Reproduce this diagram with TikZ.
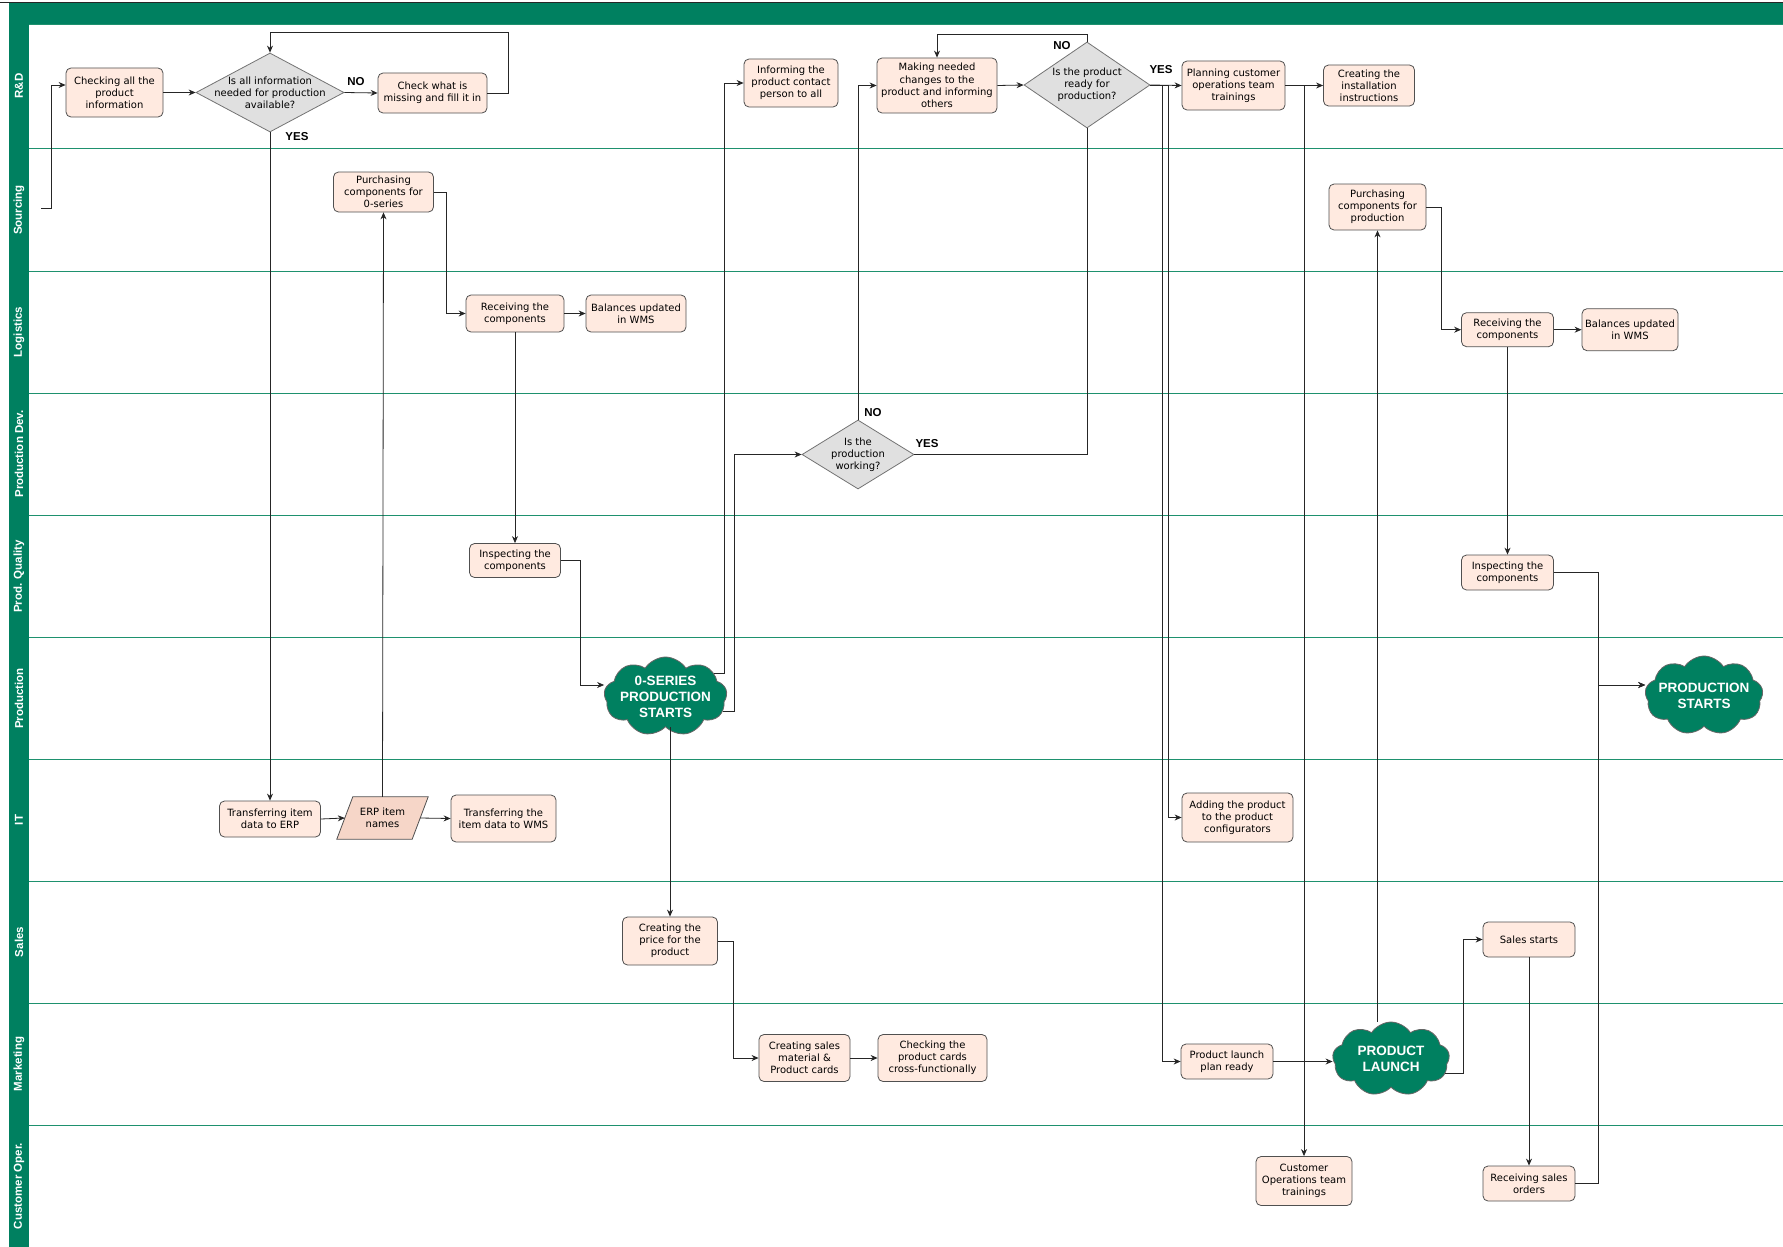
\documentclass[tikz,border=0pt]{standalone}
\usepackage{fontspec}
\setmainfont{DejaVu Sans}
\newfontfamily\hfont{Liberation Sans}
\usetikzlibrary{shapes.geometric,shapes.symbols,arrows.meta}
\definecolor{lanegreen}{RGB}{0,128,96}
\definecolor{laneline}{RGB}{30,145,110}
\definecolor{boxfill}{RGB}{255,234,224}
\definecolor{boxline}{RGB}{80,80,80}
\definecolor{diafill}{RGB}{224,224,224}
\definecolor{parfill}{RGB}{246,214,200}
\tikzset{
  box/.style={draw=boxline, fill=boxfill, rounded corners=5pt, line width=0.8pt, align=center, inner sep=0pt, font=\fontsize{10}{12.2}\selectfont},
  dia/.style={diamond, draw=black!55, fill=diafill, line width=0.8pt, inner sep=0pt},
  dtext/.style={align=center, font=\fontsize{10}{12.2}\selectfont, inner sep=0pt},
  cloudnode/.style={cloud, cloud puffs=9, cloud puff arc=115, cloud ignores aspect, draw=black!60, fill=lanegreen, line width=0.8pt, inner sep=0pt},
  ctext/.style={align=center, text=white, font=\hfont\bfseries\fontsize{13.5}{16}\selectfont, inner sep=0pt},
  lanelbl/.style={rotate=90, text=white, font=\hfont\bfseries\fontsize{11.5}{13}\selectfont, inner sep=0pt},
  yn/.style={font=\hfont\bfseries\fontsize{11.5}{13}\selectfont, inner sep=0pt},
  arr/.style={draw=black!85, line width=0.8pt, -{Stealth[length=7pt,width=6pt]}},
  ln/.style={draw=black!85, line width=0.8pt},
  plain/.style={inner sep=0pt, align=center, font=\fontsize{10}{12.2}\selectfont},
}
\begin{document}
\begin{tikzpicture}[x=1pt,y=-1pt]
\useasboundingbox (0,0) rectangle (1783,1247);
\fill[white] (0,0) rectangle (1783,1247);
% frame
\fill[lanegreen] (9,3) rectangle (1783,24);
\fill[lanegreen] (9,3) rectangle (29,1247);
\draw[black!85, line width=1pt] (0,3) -- (1783,3);
\foreach \yy in {24,148.5,271,393,515.5,637.5,759.5,881,1003,1125.5}
  \draw[laneline, line width=0.9pt] (29,\yy) -- (1783,\yy);
% lane labels
\node[lanelbl] (lRD) at (19,86) {R\&D};
\node[lanelbl] (lSo) at (19,210) {Sourcing};
\node[lanelbl] (lLo) at (19,332) {Logistics};
\node[lanelbl] (lPD) at (19,454) {Production Dev.};
\node[lanelbl] (lPQ) at (19,576.5) {Prod. Quality};
\node[lanelbl] (lPr) at (19,698.5) {Production};
\node[lanelbl] (lIT) at (19,820) {IT};
\node[lanelbl] (lSa) at (19,942) {Sales};
\node[lanelbl] (lMa) at (19,1064) {Marketing};
\node[lanelbl] (lCO) at (19,1186) {Customer Oper.};

% nodes
\node[box, minimum width=97pt, minimum height=49pt] (chk) at (114.5,92.5) {Checking all the\\product\\information};
\node[dia, minimum width=148pt, minimum height=79pt, label={[dtext]center:{Is all information\\needed for production\\available?}}] (d1) at (270,92.5) {};
\node[box, minimum width=109pt, minimum height=40pt] (miss) at (432.5,93) {Check what is\\missing and fill it in};
\node[box, minimum width=100pt, minimum height=40pt] (pur0) at (383.5,192) {Purchasing\\components for\\0-series};
\node[box, minimum width=98pt, minimum height=37pt] (rec1) at (515,313.5) {Receiving the\\components};
\node[box, minimum width=100pt, minimum height=37pt] (bal1) at (636,313.5) {Balances updated\\in WMS};
\node[box, minimum width=91pt, minimum height=34pt] (insp1) at (515,560.5) {Inspecting the\\components};
\node[cloudnode, minimum width=123pt, minimum height=79pt, label={[ctext]center:{0-SERIES\\PRODUCTION\\STARTS}}] (c0) at (665.5,696.5) {};
\node[box, minimum width=94pt, minimum height=48pt] (inf) at (791,83) {Informing the\\product contact\\person to all};
\node[box, minimum width=120pt, minimum height=55pt] (mak) at (937,85.5) {Making needed\\changes to the\\product and informing\\others};
\node[dia, minimum width=126pt, minimum height=86pt, label={[dtext]center:{Is the product\\ready for\\production?}}] (d2) at (1087,85) {};
\node[dia, minimum width=112pt, minimum height=69pt, label={[dtext]center:{Is the\\production\\working?}}] (d3) at (858,454.5) {};
\node[box, minimum width=103pt, minimum height=49pt] (plan) at (1233.5,85.5) {Planning customer\\operations team\\trainings};
\node[box, minimum width=91pt, minimum height=41pt] (inst) at (1369,85.5) {Creating the\\installation\\instructions};
\node[box, minimum width=97pt, minimum height=46pt] (purp) at (1377.5,207) {Purchasing\\components for\\production};
\node[box, minimum width=92pt, minimum height=34pt] (rec2) at (1507.5,329.7) {Receiving the\\components};
\node[box, minimum width=96pt, minimum height=42pt] (bal2) at (1630,329.7) {Balances updated\\in WMS};
\node[box, minimum width=92pt, minimum height=35pt] (insp2) at (1507.5,572.5) {Inspecting the\\components};
\node[cloudnode, minimum width=118pt, minimum height=79pt, label={[ctext]center:{PRODUCTION\\STARTS}}] (cP) at (1704,695.5) {};
\node[box, minimum width=101pt, minimum height=36pt] (terp) at (270,819) {Transferring item\\data to ERP};
% ERP item names (parallelogram)
\node[inner sep=0pt, minimum width=75pt, minimum height=42pt] (erp) at (382.5,818) {};
\filldraw[draw=boxline, fill=parfill, line width=0.8pt] ([xshift=-8pt]erp.south west) -- ([xshift=8pt]erp.north west) -- ([xshift=8pt]erp.north east) -- ([xshift=-8pt]erp.south east) -- cycle;
\node[plain] (erpt) at (erp.center) {ERP item\\names};
\node[box, minimum width=105pt, minimum height=47pt] (wms) at (503.5,818.5) {Transferring the\\item data to WMS};
\node[box, minimum width=111pt, minimum height=49pt] (conf) at (1237.5,817.5) {Adding the product\\to the product\\configurators};
\node[box, minimum width=95pt, minimum height=48pt] (price) at (670,941) {Creating the\\price for the\\product};
\node[box, minimum width=91pt, minimum height=47pt] (smat) at (804.5,1058) {Creating sales\\material \&\\Product cards};
\node[box, minimum width=109pt, minimum height=47pt] (pcard) at (932.5,1058) {Checking the\\product cards\\cross-functionally};
\node[box, minimum width=92pt, minimum height=35pt] (plr) at (1227,1061.5) {Product launch\\plan ready};
\node[cloudnode, minimum width=117pt, minimum height=74pt, label={[ctext]center:{PRODUCT\\LAUNCH}}] (cL) at (1391,1059) {};
\node[box, minimum width=92pt, minimum height=35pt] (sales) at (1529,939.5) {Sales starts};
\node[box, minimum width=92pt, minimum height=35pt] (rso) at (1529,1183.5) {Receiving sales\\orders};
\node[box, minimum width=96pt, minimum height=49pt] (cot) at (1304,1181) {Customer\\Operations team\\trainings};

% YES / NO labels
\node[yn] (no1) at (356,82) {NO};
\node[yn] (yes1) at (297,136.5) {YES};
\node[yn] (no2) at (1062,46) {NO};
\node[yn] (yes2) at (1161,70) {YES};
\node[yn] (no3) at (873,412.5) {NO};
\node[yn] (yes3) at (927,443.5) {YES};

% connectors
\coordinate (start) at (41,208);
\draw[arr] (start) -- (51,208) -- (51,85) -- ([yshift=7.5pt]chk.west);
\draw[arr] (chk.east) -- (d1.west);
\draw[arr] (d1.east) -- (miss.west);
\draw[arr] (miss.east) -| (508,32) -| (d1.north);
\draw[arr] (d1.south) -- (terp.north);
\draw[arr] (terp.east) -- (erp.west);
\draw[arr] (erp.north) -- (pur0.south);
\draw[arr] (erp.east) -- (wms.west);
\draw[arr] (pur0.east) -| (446,313.5) -- (rec1.west);
\draw[arr] (rec1.east) -- (bal1.west);
\draw[arr] (rec1.south) -- (insp1.north);
\draw[arr] (insp1.east) -| (580,685) -- (c0.west |- 0,685);
\draw[arr] (c0.25) -| (724,83) -- (inf.west);
\draw[arr] (c0.-15) -| (734,454.5) -- (d3.west);
\draw[arr] (d3.north) |- (mak.west);
\draw[ln] (d3.east) -| (d2.south);
\draw[arr] (mak.east) -- (d2.west);
\draw[arr] (d2.north) |- (937,34) -- (mak.north);
\draw[arr] (d2.east) -- (plan.west);
\draw[arr] (d2.east) -| (1162,1061.5) -- (plr.west);
\draw[arr] (d2.east) -| (1168,817.5) -- (conf.west);
\draw[arr] (plan.east) -- (inst.west);
\draw[arr] (plan.east) -| (cot.north);
\draw[arr] (plr.east) -- (cL.west |- plr.east);
\draw[arr] (cL.north -| purp.south) -- (purp.south);
\draw[arr] (cL.-15) -| (1463,939.5) -- (sales.west);
\draw[arr] (sales.south) -- (rso.north);
\draw[arr] (rso.east) -| (1598.7,685) -- (cP.west |- 0,685);
\draw[arr] (insp2.east) -| (1598.7,685) -- (cP.west |- 0,685);
\draw[arr] (purp.east) -| (1441.5,329.7) -- (rec2.west);
\draw[arr] (rec2.east) -- (bal2.west);
\draw[arr] (rec2.south) -- (insp2.north);
\draw[arr] (c0.south -| price.north) -- (price.north);
\draw[arr] (price.east) -| (733.7,1058) -- (smat.west);
\draw[arr] (smat.east) -- (pcard.west);
\end{tikzpicture}
\end{document}
